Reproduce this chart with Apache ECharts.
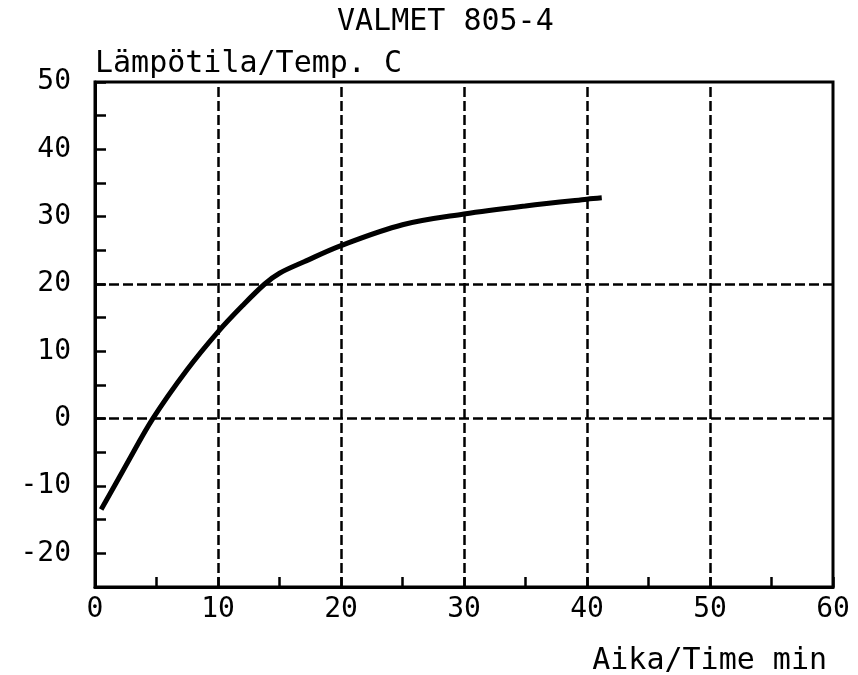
<!DOCTYPE html>
<html>
<head>
<meta charset="utf-8">
<script src="https://cdn.jsdelivr.net/npm/echarts@6/dist/echarts.min.js"></script>
<style>
  html, body { margin: 0; padding: 0; background: #fff; }
  #chart { width: 858px; height: 675px; }
</style>
</head>
<body>
<div id="chart"></div>
<script>
// curve: time (min), temperature (C)
var timeMin = [0.5, 2.5, 4.7, 7.5, 10, 12, 13.8, 15, 17, 20, 25, 30, 35, 40, 41.2]
var tempC = [-13.5, -7, 0, 7.3, 12.9, 16.8, 20, 21.6, 23.3, 25.7, 28.8, 30.4, 31.6, 32.6, 32.8]
// dashed grid lines drawn on the plot
var xGrid = [10, 20, 30, 40, 50]
var yGrid = [0, 20]

var font = '"DejaVu Sans Mono", monospace'
var myChart = echarts.init(document.getElementById('chart'))

var points = []
for (var i = 0; i < timeMin.length; i++) {
  points.push([timeMin[i], tempC[i]])
}

var gridLines = []
xGrid.forEach(function (v) { gridLines.push({ xAxis: v }) })
yGrid.forEach(function (v) { gridLines.push({ yAxis: v }) })

var option = {
  backgroundColor: '#fff',
  animation: false,
  title: [
    {
      text: 'VALMET 805-4',
      left: 332,
      top: 2,
      textStyle: { fontFamily: font, fontSize: 30, fontWeight: 'normal', color: '#000' }
    },
    {
      text: 'Aika/Time min',
      right: 26,
      top: 641,
      textStyle: { fontFamily: font, fontSize: 30, fontWeight: 'normal', color: '#000' }
    }
  ],
  grid: {
    left: 95,
    right: 25,
    top: 82,
    bottom: 88,
    show: true,
    borderColor: '#000',
    borderWidth: 3,
    backgroundColor: 'transparent'
  },
  xAxis: {
    type: 'value',
    min: 0,
    max: 60,
    interval: 5,
    axisLine: { show: true, onZero: false, lineStyle: { color: '#000', width: 3 } },
    axisTick: { show: true, inside: true, length: 10, lineStyle: { color: '#000', width: 2.5 } },
    splitLine: { show: false },
    axisLabel: {
      color: '#000',
      fontFamily: font,
      fontSize: 28,
      margin: 9,
      formatter: function (v) { return v % 10 === 0 ? String(v) : '' }
    }
  },
  yAxis: {
    type: 'value',
    min: -25,
    max: 50,
    interval: 5,
    name: 'Lämpötila/Temp. C',
    nameLocation: 'end',
    nameGap: 3,
    nameTextStyle: { color: '#000', fontFamily: font, fontSize: 30, align: 'left', verticalAlign: 'bottom' },
    axisLine: { show: true, onZero: false, lineStyle: { color: '#000', width: 3 } },
    axisTick: { show: true, inside: true, length: 11, lineStyle: { color: '#000', width: 2.5 } },
    splitLine: { show: false },
    axisLabel: {
      color: '#000',
      fontFamily: font,
      fontSize: 28,
      margin: 24,
      formatter: function (v) { return v % 10 === 0 ? String(v) : '' }
    }
  },
  series: [
    {
      type: 'line',
      data: points,
      smooth: 0.35,
      symbol: 'none',
      lineStyle: { color: '#000', width: 5 },
      z: 3,
      markLine: {
        silent: true,
        symbol: 'none',
        label: { show: false },
        lineStyle: { color: '#000', width: 2.5, type: [10, 4] },
        data: gridLines
      }
    }
  ]
}

myChart.setOption(option)
window.addEventListener('resize', function () { myChart.resize() })
</script>
</body>
</html>
